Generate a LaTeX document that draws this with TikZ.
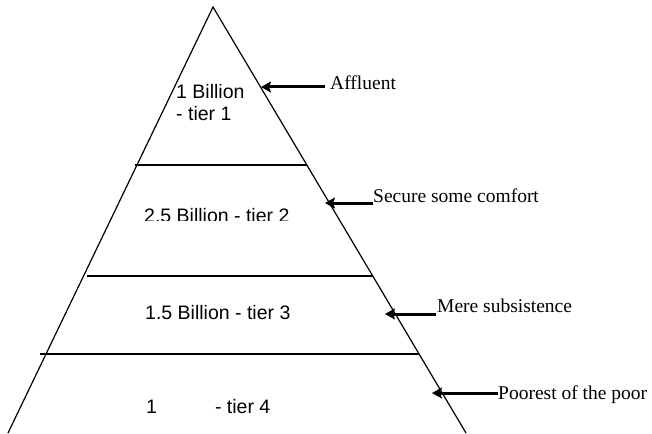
\documentclass[tikz,border=0pt]{standalone}
\usepackage{fontspec}
\setmainfont{Liberation Serif}
\setsansfont{Liberation Sans}
\usetikzlibrary{arrows.meta}
\tikzset{
  tierlabel/.style={font=\sffamily\fontsize{19.5}{22}\selectfont,
                    inner sep=0pt, anchor=base west, align=left},
  classlabel/.style={font=\rmfamily\fontsize{19.5}{22}\selectfont,
                     inner sep=0pt, anchor=base west},
  tierline/.style={line width=1.5pt},
  pointer/.style={line width=3pt, -{Stealth[length=10pt, width=11pt, inset=2pt]}},
}

\begin{document}
\begin{tikzpicture}[x=1pt, y=-1pt]
    \useasboundingbox (0,0) rectangle (652,433);
    % pyramid outline
    \coordinate (apex) at (213,7);
    \coordinate (bl) at (8,433);
    \coordinate (br) at (466,433);
    \draw[line width=1.2pt] (bl) -- (apex) -- (br);
    % tier boundaries
    \draw[tierline] (135,165) -- (307,165);
    \draw[tierline] (87,276) -- (373,276);
    \draw[tierline] (40,354) -- (419,354);
    % tier labels
    \node[tierlabel] (tier1) at (176,121) {1 Billion\\- tier 1};
    \begin{scope}
      \clip (100,150) rectangle (330,220.5);
      \node[tierlabel] (tier2) at (144,222) {2.5 Billion - tier 2};
    \end{scope}
    \node[tierlabel] (tier3) at (145,319) {1.5 Billion - tier 3};
    \node[tierlabel] (tier4) at (146,413) {1\hspace{58pt}- tier 4};
    % class labels
    \node[classlabel] (affluent) at (330,89) {Affluent};
    \node[classlabel] (comfort) at (373,202) {Secure some comfort};
    \node[classlabel] (subsist) at (437,312) {Mere subsistence};
    \node[classlabel] (poorest) at (498,399) {Poorest of the poor};
    % arrows
    \coordinate (tail1) at (325,87);
    \coordinate (tip1) at (261,87);
    \coordinate (tail2) at (373,203);
    \coordinate (tip2) at (325,203);
    \coordinate (tail3) at (436,314);
    \coordinate (tip3) at (385,314);
    \coordinate (tail4) at (498,393);
    \coordinate (tip4) at (432,393);
    \draw[pointer] (tail1) -- (tip1);
    \draw[pointer] (tail2) -- (tip2);
    \draw[pointer] (tail3) -- (tip3);
    \draw[pointer] (tail4) -- (tip4);
\end{tikzpicture}
\end{document}
